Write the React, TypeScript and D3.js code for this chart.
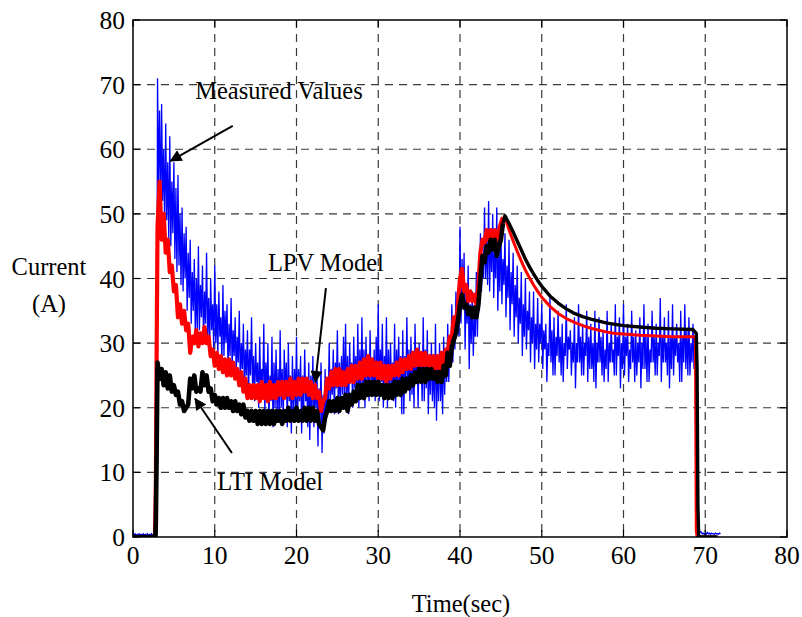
import React from "react";
import * as d3 from "d3";

// ---------- data ----------
const xTicks = [0, 10, 20, 30, 40, 50, 60, 70, 80];
const yTicks = [0, 10, 20, 30, 40, 50, 60, 70, 80];

// Measured current, sampled every 0.125 s starting at t = 0 (16 samples = 2 s per row)
const measuredStep = 0.125;
const measuredValues = [
  0.4, 0.2, 0.5, 0.3, 0.4, 0.2, 0.5, 0.3, 0.4, 0.2, 0.5, 0.3, 0.4, 0.2, 0.5, 0.3, // 0-2
  0.4, 0.2, 0.5, 0.3, 0.4, 0.2, 0.5, 0.3, 71, 55, 66, 50, 67, 52, 60, 48, // 2-4
  64, 49, 58, 46, 62, 45, 55, 47, 58, 43, 54, 41, 56, 42, 50, 39, // 4-6
  51, 38, 47, 40, 48, 35, 44, 37, 46, 33, 41, 35, 43, 31, 40, 32, // 6-8
  45, 32, 39, 34, 42, 30, 38, 33, 44, 31, 37, 29, 40, 32, 36, 29, // 8-10
  42, 30, 36, 28, 38, 31, 34, 27, 39, 28, 35, 30, 36, 26, 33, 28, // 10-12
  37, 26, 32, 28, 34, 25, 31, 27, 35, 24, 30, 26, 33, 23, 29, 25, // 12-14
  32, 22, 29, 25, 34, 23, 28, 21, 30, 24, 27, 20, 31, 22, 26, 23, // 14-16
  33, 19, 27, 22, 30, 18, 25, 21, 31, 17, 27, 20, 29, 19, 26, 18, // 16-18
  32, 20, 26, 18, 29, 22, 27, 17, 30, 21, 25, 16, 28, 19, 26, 20, // 18-20
  31, 18, 26, 21, 28, 16, 25, 19, 29, 21, 24, 17, 27, 15, 25, 19, // 20-22
  28, 17, 24, 20, 26, 14, 23, 18, 27, 13, 22, 16, 26, 18, 24, 20, // 22-24
  30, 20, 26, 22, 29, 19, 27, 23, 32, 19, 27, 21, 28, 22, 31, 20, // 24-26
  33, 21, 28, 19, 30, 24, 27, 20, 31, 23, 28, 21, 33, 20, 29, 22, // 26-28
  34, 22, 29, 20, 31, 24, 28, 21, 32, 24, 27, 22, 29, 21, 31, 23, // 28-30
  36, 21, 29, 24, 33, 20, 28, 23, 34, 20, 29, 22, 30, 23, 27, 21, // 30-32
  33, 20, 29, 23, 31, 22, 28, 19, 32, 19, 28, 23, 34, 23, 29, 21, // 32-34
  31, 22, 28, 20, 33, 24, 29, 20, 30, 24, 27, 21, 34, 21, 29, 23, // 34-36
  32, 19, 28, 22, 30, 21, 27, 20, 33, 18, 28, 21, 30, 21, 27, 19, // 36-38
  31, 22, 29, 24, 33, 24, 30, 27, 36, 27, 33, 29, 38, 32, 35, 31, // 38-40
  48, 33, 43, 36, 44, 29, 38, 33, 42, 26, 36, 30, 38, 28, 34, 31, // 40-42
  41, 31, 38, 35, 47, 38, 43, 40, 51, 40, 46, 39, 52, 38, 47, 41, // 42-44
  50, 37, 45, 40, 51, 35, 44, 38, 49, 36, 43, 39, 47, 34, 42, 37, // 44-46
  46, 32, 41, 36, 44, 31, 39, 34, 42, 30, 37, 33, 41, 28, 36, 31, // 46-48
  40, 29, 35, 32, 38, 27, 34, 30, 38, 26, 33, 29, 37, 27, 33, 30, // 48-50
  36, 26, 32, 29, 33, 24, 30, 28, 37, 27, 32, 25, 34, 25, 31, 28, // 50-52
  35, 27, 31, 25, 33, 24, 30, 28, 36, 26, 31, 29, 32, 25, 30, 27, // 52-54
  34, 23, 30, 27, 36, 27, 31, 25, 33, 25, 30, 28, 35, 24, 31, 26, // 54-56
  33, 26, 30, 24, 35, 23, 30, 27, 34, 27, 31, 25, 32, 24, 29, 26, // 56-58
  35, 24, 30, 27, 33, 27, 29, 25, 36, 25, 31, 28, 34, 23, 30, 26, // 58-60
  36, 25, 31, 28, 33, 24, 29, 26, 35, 27, 31, 24, 32, 25, 30, 27, // 60-62
  34, 23, 30, 26, 36, 26, 31, 24, 33, 24, 29, 27, 35, 27, 31, 25, // 62-64
  33, 25, 30, 28, 37, 24, 31, 27, 34, 27, 30, 25, 35, 23, 31, 26, // 64-66
  36, 25, 31, 28, 33, 27, 30, 24, 35, 24, 31, 27, 36, 26, 32, 25, // 66-68
  34, 25, 30, 27, 33, 26, 29, 25, 2, 1.5, 1, 0.8, 0.8, 0.5, 0.6, 0.4, // 68-70
  0.6, 0.4, 0.7, 0.5, 0.6, 0.4, 0.6, 0.5, 0.5, 0.4, 0.6, 0.5, 0.5, 0.4, 0.6, 0.5, // 70-72
];

// LPV model: start segment, noisy part (0.25 s step from t = 3.0), smooth tail
const lpvHead: [number, number][] = [[0, 0], [2.7, 0], [2.8, 8], [2.9, 30]];
const lpvNoisyStart = 3.0;
const lpvNoisyStep = 0.25;
const lpvNoisy = [
  48, 55, 46, 50, 44, 46, 41, 42, 38, 39, 34, 36, 33, 35, 32, 33,
  28.5, 31, 30, 32, 29.5, 31.5, 30, 32.5, 30, 31, 28, 29,
  26.5, 28.5, 26, 28, 25.5, 27.5, 25, 27.5, 25, 27, 24.5, 26, 23.5, 25.5, 22.5, 24.5,
  21.5, 23.5, 21.5, 23.5, 21.5, 23.5, 21, 24, 21.5, 23.5, 21, 24, 21.5, 23.5, 21.5, 24,
  22, 24, 21.5, 24, 22, 24.5, 21.5, 24, 22, 24.5, 22, 24.5, 22.5, 24.5, 22, 24,
  21.5, 23.5, 21.5, 22.5, 19.5, 21, 21.5, 24.5, 23, 25.5, 23.5, 26, 23.5, 26, 23.5, 25.5,
  23.5, 26, 24, 26.5, 24, 26.5, 24.5, 27, 24.5, 27.5, 25, 28, 25, 27.5, 25, 27,
  24.5, 27, 24.5, 26.5, 24, 26.5, 24.5, 26.5, 25, 27, 25, 27.5, 25.5, 27.5, 26, 28,
  26, 28.5, 26.5, 29, 26.5, 28.5, 26.5, 28.5, 26.5, 28, 26, 28, 26, 28, 26, 28.5,
  27, 29, 28.5, 31, 31, 34, 33, 36, 40, 41.5, 38, 39, 36.5, 38, 36.5, 37.5,
  36, 39, 44, 46, 45.5, 47.5, 46, 47.5, 46, 47.5, 45.5, 47.5, 48.5, 49.5,
];
const lpvTail: [number, number][] = [
  [45.5, 49.5], [46, 47.5], [46.5, 45.8], [47, 44.2], [47.5, 42.7], [48, 41.3],
  [48.5, 40.1], [49, 39], [49.5, 38], [50, 37.1], [51, 35.7], [52, 34.6], [53, 33.8],
  [54, 33.2], [55, 32.7], [56, 32.3], [57, 32], [58, 31.7], [59, 31.5], [60, 31.4],
  [62, 31.2], [64, 31.1], [66, 31], [68.8, 31], [68.9, 1], [69, 0], [71.5, 0],
];

// LTI model
const ltiHead: [number, number][] = [[0, 0], [2.75, 0], [2.8, 3], [2.9, 14]];
const ltiNoisyStart = 3.0;
const ltiNoisyStep = 0.25;
const ltiNoisy = [
  27, 24.5, 26, 23.5, 25.5, 23, 25, 22.5, 23.5, 22, 22.5, 20.5, 21, 19.5, 20, 20.5,
  24.5, 23, 25, 22.5, 23, 22.5, 25.5, 23.5, 25, 22.5, 23, 21,
  22, 20.5, 21.5, 20, 21.5, 20, 21.5, 20, 21, 19.5, 21, 19.5, 20.5, 19, 20.5, 18.5,
  19.5, 18, 19.5, 18, 19.5, 17.5, 19.5, 17.5, 19.5, 17.5, 19.5, 17.5, 19.5, 17.5, 19.5, 18,
  19.5, 17.5, 19.5, 18, 20, 18, 19.5, 18, 20, 18, 19.5, 18, 20, 18, 20, 18,
  20, 18, 19.5, 17.5, 17, 16.5, 18.5, 19.5, 21, 19.5, 21, 19.5, 21.5, 19.5, 21.5, 20,
  22, 19.5, 22, 20.5, 22.5, 21, 23.5, 21.5, 23.5, 21.5, 24, 22, 24, 22, 24, 22,
  24, 22, 23.5, 21.5, 23.5, 21.5, 23.5, 21.5, 24, 22, 24, 22, 24.5, 22.5, 24.5, 23,
  25, 23.5, 25.5, 24, 26, 24, 26, 24, 26, 24.5, 26, 24.5, 25.5, 24, 25.5, 24,
  26.5, 25, 28.5, 26.5, 29.5, 30.5, 31.5, 33.5, 36, 37.5, 35.5, 36, 34.5, 35.5, 34, 35.5,
  34, 36, 40, 43.5, 42.5, 45, 44, 46, 44.5, 46, 43.5, 45, 46, 48.5,
];
const ltiTail: [number, number][] = [
  [45.5, 49.7], [46, 48.5], [46.5, 47.2], [47, 45.8], [47.5, 44.4], [48, 43],
  [48.5, 41.8], [49, 40.7], [49.5, 39.7], [50, 38.8], [51, 37.3], [52, 36.2], [53, 35.3],
  [54, 34.6], [55, 34.1], [56, 33.7], [57, 33.4], [58, 33.1], [59, 32.9], [60, 32.7],
  [62, 32.5], [64, 32.3], [66, 32.2], [68.5, 32.1], [68.9, 31.5], [69, 26], [69.1, 5],
  [69.2, 0], [71.5, 0],
];

// annotations: text anchor + arrow tail/head in data units
const annotations = [
  { label: "Measured Values", tx: 7.6, ty: 67.7, from: [12.2, 63.6], to: [4.6, 58.2] },
  { label: "LPV Model", tx: 16.5, ty: 41.1, from: [23.6, 38.5], to: [22.3, 24.0] },
  { label: "LTI Model", tx: 10.3, ty: 7.3, from: [12.1, 13.0], to: [7.6, 21.4] },
];

// ---------- layout ----------
const W = 802;
const H = 617;
const M = { left: 133, right: 787, top: 20, bottom: 537 };

export default function App() {
  const x = d3.scaleLinear().domain([0, 80]).range([M.left, M.right]);
  const y = d3.scaleLinear().domain([0, 80]).range([M.bottom, M.top]);

  const measured: [number, number][] = measuredValues.map((v, i) => [i * measuredStep, v]);
  const lpvFront: [number, number][] = [
    ...lpvHead,
    ...lpvNoisy.map((v, i) => [lpvNoisyStart + i * lpvNoisyStep, v] as [number, number]),
  ];
  const lpvBack: [number, number][] = [lpvFront[lpvFront.length - 1], ...lpvTail];
  const ltiFront: [number, number][] = [
    ...ltiHead,
    ...ltiNoisy.map((v, i) => [ltiNoisyStart + i * ltiNoisyStep, v] as [number, number]),
  ];
  const ltiBack: [number, number][] = [ltiFront[ltiFront.length - 1], ...ltiTail];

  const line = d3
    .line<[number, number]>()
    .x((d) => x(d[0]))
    .y((d) => y(d[1]));

  const font = "'Liberation Serif', 'Times New Roman', serif";
  const gridColor = "#3a3a3a";
  const tickLen = 7;
  const labelSize = 24.5;
  const tickSize = 25.5;

  return (
    <svg
      width={W}
      height={H}
      style={{ position: "absolute", left: 0, top: 0, background: "#fff" }}
      fontFamily={font}
    >
      <defs>
        <clipPath id="plotClip">
          <rect x={M.left} y={M.top} width={M.right - M.left} height={M.bottom - M.top} />
        </clipPath>
        <marker id="arrowHead" viewBox="0 0 10 10" refX="9" refY="5" markerWidth="7" markerHeight="6" orient="auto" markerUnits="strokeWidth">
          <path d="M0,0 L10,5 L0,10 z" fill="#000" />
        </marker>
      </defs>

      <rect x={0} y={0} width={W} height={H} fill="#fff" />

      {/* grid */}
      {xTicks.slice(1, -1).map((t) => (
        <line key={"gx" + t} x1={x(t)} x2={x(t)} y1={M.top} y2={M.bottom} stroke={gridColor} strokeWidth={1.2} strokeDasharray="8,6" />
      ))}
      {yTicks.slice(1, -1).map((t) => (
        <line key={"gy" + t} x1={M.left} x2={M.right} y1={y(t)} y2={y(t)} stroke={gridColor} strokeWidth={1.2} strokeDasharray="8,6" />
      ))}

      {/* series */}
      <g clipPath="url(#plotClip)">
        <path d={line(measured) || ""} fill="none" stroke="#0000ff" strokeWidth={1.3} strokeLinejoin="miter" />
        <path d={line(lpvFront) || ""} fill="none" stroke="#ff0000" strokeWidth={4.2} strokeLinejoin="round" />
        <path d={line(lpvBack) || ""} fill="none" stroke="#ff0000" strokeWidth={3} strokeLinejoin="round" />
        <path d={line(ltiFront) || ""} fill="none" stroke="#000000" strokeWidth={4.6} strokeLinejoin="round" />
        <path d={line(ltiBack) || ""} fill="none" stroke="#000000" strokeWidth={3.4} strokeLinejoin="round" />
      </g>

      {/* frame */}
      <rect x={M.left} y={M.top} width={M.right - M.left} height={M.bottom - M.top} fill="none" stroke="#000" strokeWidth={1.5} />

      {/* ticks */}
      {xTicks.map((t) => (
        <g key={"tx" + t}>
          <line x1={x(t)} x2={x(t)} y1={M.bottom} y2={M.bottom - tickLen} stroke="#000" strokeWidth={1.2} />
          <line x1={x(t)} x2={x(t)} y1={M.top} y2={M.top + tickLen} stroke="#000" strokeWidth={1.2} />
          <text x={x(t)} y={M.bottom + 27} textAnchor="middle" fontSize={tickSize} fill="#000">
            {t}
          </text>
        </g>
      ))}
      {yTicks.map((t) => (
        <g key={"ty" + t}>
          <line x1={M.left} x2={M.left + tickLen} y1={y(t)} y2={y(t)} stroke="#000" strokeWidth={1.2} />
          <line x1={M.right} x2={M.right - tickLen} y1={y(t)} y2={y(t)} stroke="#000" strokeWidth={1.2} />
          <text x={M.left - 8} y={y(t) + 9} textAnchor="end" fontSize={tickSize} fill="#000">
            {t}
          </text>
        </g>
      ))}

      {/* axis labels */}
      <text x={49} y={275} textAnchor="middle" fontSize={labelSize} fill="#000">Current</text>
      <text x={49} y={312} textAnchor="middle" fontSize={labelSize} fill="#000">(A)</text>
      <text x={461} y={612} textAnchor="middle" fontSize={labelSize} fill="#000">Time(sec)</text>

      {/* annotations */}
      {annotations.map((a) => (
        <g key={a.label}>
          <text x={x(a.tx)} y={y(a.ty)} fontSize={labelSize} fill="#000">{a.label}</text>
          <line
            x1={x(a.from[0])}
            y1={y(a.from[1])}
            x2={x(a.to[0])}
            y2={y(a.to[1])}
            stroke="#000"
            strokeWidth={2}
            markerEnd="url(#arrowHead)"
          />
        </g>
      ))}
    </svg>
  );
}
